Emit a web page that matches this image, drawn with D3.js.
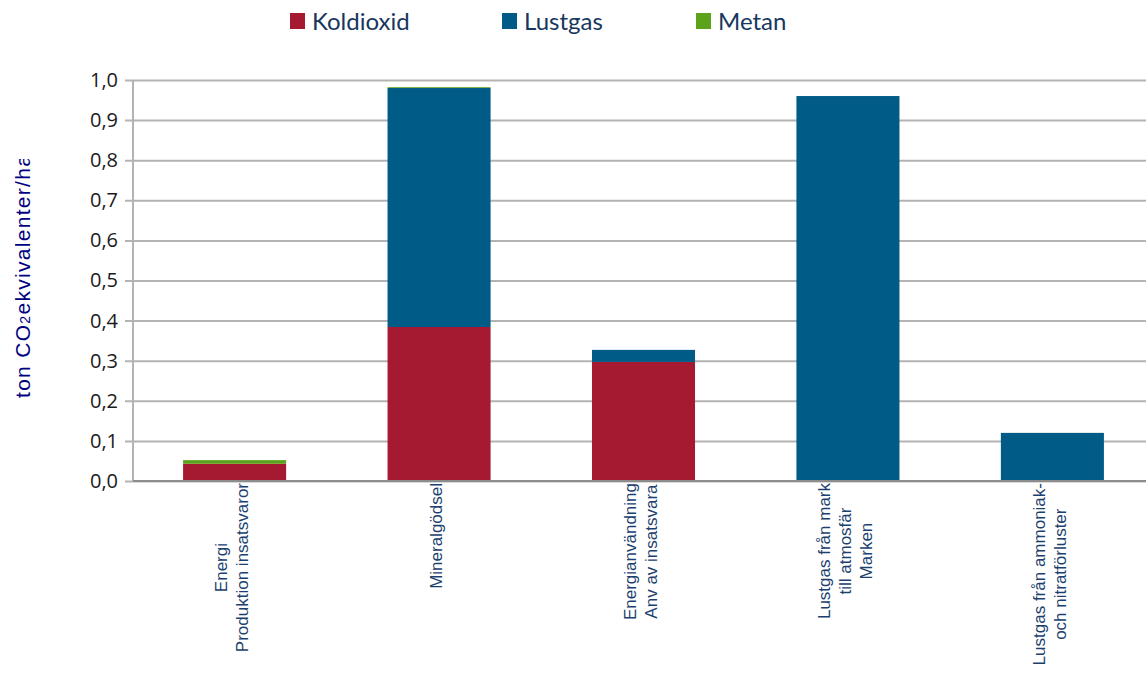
<!DOCTYPE html>
<html>
<head>
<meta charset="utf-8">
<script src="https://cdn.jsdelivr.net/npm/d3@7"></script>
<style>
  body { margin: 0; background: #fff; }
</style>
</head>
<body>
<svg width="1146" height="675"></svg>
<script>
// Data
let categories = [
  ["Energi", "Produktion insatsvaror"],
  ["Mineralgödsel"],
  ["Energianvändning", "Anv av insatsvara"],
  ["Lustgas från mark", "till atmosfär", "Marken"],
  ["Lustgas från ammoniak-", "och nitratförluster"]
];
let seriesNames = ["Koldioxid", "Lustgas", "Metan"];
let koldioxid = [0.043, 0.384, 0.297, 0, 0];
let lustgas   = [0, 0.596, 0.030, 0.960, 0.120];
let metan     = [0.009, 0.002, 0, 0, 0];
let yTicks = [0, 0.1, 0.2, 0.3, 0.4, 0.5, 0.6, 0.7, 0.8, 0.9, 1.0];

let colors = { Koldioxid: "#A51A30", Lustgas: "#005C87", Metan: "#5BA31B" };

let svg = d3.select("svg");

let left = 133, right = 1146;

// the category band runs a bit past the right edge of the picture
let x = d3.scaleBand()
          .domain(d3.range(categories.length))
          .range([left, 1154])
          .paddingInner(0.496)
          .paddingOuter(0.245);

let y = d3.scaleLinear()
          .domain([0, 1])
          .range([481, 80]);

// table for stack
let table = categories.map((c, i) => ({
  idx: i,
  Koldioxid: koldioxid[i],
  Lustgas: lustgas[i],
  Metan: metan[i]
}));
let stacked = d3.stack().keys(seriesNames)(table);

// Grid lines + tick marks
let yAxis = d3.axisLeft(y)
              .tickValues(yTicks)
              .tickSize(-(right - left))
              .tickPadding(15)
              .tickFormat(d => d3.format(".1f")(d).replace(".", ","));

let gy = svg.append("g")
            .attr("transform", "translate(" + left + ",0)")
            .call(yAxis);
gy.select(".domain").remove();
gy.selectAll(".tick line")
  .attr("x1", -8)
  .attr("stroke", "#b3b3b3")
  .attr("stroke-width", 2);
gy.selectAll(".tick text")
  .attr("font-family", "'Open Sans', sans-serif")
  .attr("font-size", 20)
  .attr("fill", "#1a1a1a");

// vertical axis line
svg.append("line")
   .attr("x1", left).attr("x2", left)
   .attr("y1", y(1)).attr("y2", y(0))
   .attr("stroke", "#b3b3b3")
   .attr("stroke-width", 2);

// Bars
svg.append("g")
   .selectAll("g")
   .data(stacked)
   .enter()
   .append("g")
   .attr("fill", d => colors[d.key])
   .selectAll("rect")
   .data(d => d)
   .enter()
   .append("rect")
   .attr("x", d => x(d.data.idx))
   .attr("width", x.bandwidth())
   .attr("y", d => y(d[1]))
   .attr("height", d => y(d[0]) - y(d[1]));

// baseline
svg.append("line")
   .attr("x1", left).attr("x2", right)
   .attr("y1", y(0)).attr("y2", y(0))
   .attr("stroke", "#8c8c8c")
   .attr("stroke-width", 2);

// Category labels (rotated, lines centred on each other)
let lineGap = 21;
categories.forEach((lines, i) => {
  let cx = x(i) + x.bandwidth() / 2 - 3;
  let g = svg.append("g")
             .attr("transform", "translate(" + cx + "," + (y(0) + 2) + ") rotate(-90)");
  let texts = lines.map((t, j) => g.append("text")
      .attr("font-family", "'Liberation Sans', Arial, sans-serif")
      .attr("font-size", 17)
      .attr("fill", "#1b3f6e")
      .attr("text-anchor", "middle")
      .attr("dy", "0.35em")
      .attr("y", (j - (lines.length - 1) / 2) * lineGap)
      .text(t));
  let maxW = d3.max(texts, t => t.node().getComputedTextLength());
  texts.forEach(t => t.attr("x", -maxW / 2));
});

// Y axis title (clipped at top like the original)
svg.append("clipPath").attr("id", "titleClip")
   .append("rect").attr("x", 0).attr("y", 159).attr("width", 60).attr("height", 300);
let title = svg.append("g")
   .attr("clip-path", "url(#titleClip)")
   .append("text")
   .attr("transform", "translate(30,398) rotate(-90)")
   .attr("font-family", "'Liberation Sans', Arial, sans-serif")
   .attr("font-size", 21)
   .attr("letter-spacing", 1.3)
   .attr("fill", "#000080")
   .attr("text-anchor", "start");
title.append("tspan").text("ton CO");
title.append("tspan").attr("font-size", 14).text("2");
title.append("tspan").text("ekvivalenter/ha");

// Legend
let legendX = [290, 502, 696];
let legend = svg.append("g");
seriesNames.forEach((s, i) => {
  legend.append("rect")
        .attr("x", legendX[i]).attr("y", 13)
        .attr("width", 15).attr("height", 16)
        .attr("fill", colors[s]);
  legend.append("text")
        .attr("x", legendX[i] + 22).attr("y", 30)
        .attr("font-family", "Lato, 'Open Sans', sans-serif")
        .attr("font-size", 24)
        .attr("fill", "#17375e")
        .text(s);
});
</script>
</body>
</html>
